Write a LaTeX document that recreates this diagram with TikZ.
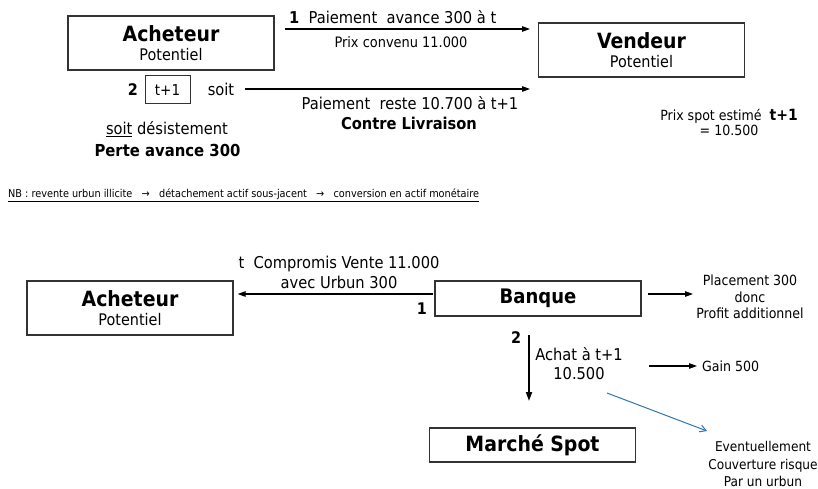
\documentclass[tikz,border=0pt]{standalone}
\usepackage{fontspec}
\setmainfont{DejaVu Sans Condensed}
\usetikzlibrary{arrows.meta}

\definecolor{bleufleche}{RGB}{46,117,182}

\tikzset{
  boite/.style={draw=black!80,line width=1.3pt,align=center,inner sep=0pt,minimum width=206pt},
  titre/.style={font=\fontsize{21}{23}\selectfont\bfseries},
  fleche/.style={-{Triangle[length=8pt,width=5.5pt]},line width=1.1pt},
  etiq/.style={align=center,inner sep=0pt,font=\fontsize{16.3}{19.5}\selectfont},
  petit/.style={align=center,inner sep=0pt,font=\fontsize{14}{16.5}\selectfont},
  num/.style={inner sep=0pt,font=\fontsize{16}{18}\selectfont\bfseries}
}

\newcommand{\pot}[1]{{\fontsize{21}{23}\selectfont\bfseries #1}\\[6pt]{\fontsize{16}{18}\selectfont Potentiel}}

\begin{document}
\begin{tikzpicture}[x=1pt,y=-1pt]
	\useasboundingbox (0,0) rectangle (818,489);

	% en haut : achat a terme
	\node[boite,minimum height=54pt] (ach) at (171,43) {\pot{Acheteur}};
	\node[boite,minimum height=54pt] (ven) at (641.5,50) {\pot{Vendeur}};

	\coordinate (d1) at (285,29);
	\coordinate (f1) at (530,29);
	\draw[fleche] (d1) -- (f1);
	\node[etiq,anchor=west] (pai) at (289,17) {\textbf{1}\ \ Paiement\ \ avance 300 à t};
	\node[etiq,font=\fontsize{14.4}{16}\selectfont] (prix) at (401,42) {Prix convenu 11.000};

	\node[num] (deux) at (133,90) {2};
	\node[draw=black!80,line width=1pt,minimum width=45pt,minimum height=28pt,inner sep=0pt,
		font=\fontsize{15}{17}\selectfont] (tun) at (167.5,90) {t+1};
	\node[etiq] (soit) at (221,89) {soit};
	\coordinate (d2) at (245,89);
	\coordinate (f2) at (530,89);
	\draw[fleche] (d2) -- (f2);
	\node[etiq] (reste) at (410,103) {Paiement\ \ reste 10.700 à t+1};
	\node[etiq,font=\fontsize{16.3}{19}\selectfont\bfseries] (livr) at (409,123) {Contre Livraison};

	\node[etiq] (desist) at (167,129) {\underline{soit} désistement};
	\node[etiq,font=\fontsize{16.5}{19}\selectfont\bfseries] (perte) at (167.5,150) {Perte avance 300};

	\node[petit,font=\fontsize{14}{15}\selectfont] (spot) at (729,122)
		{Prix spot estimé\ \ \textbf{\fontsize{15.5}{15}\selectfont t+1}\\= 10.500};

	% remarque
	\node[inner sep=0pt,anchor=west,font=\fontsize{10.8}{13}\selectfont] (nb) at (8,194)
		{NB : revente urbun illicite\ \ \ →\ \ \ détachement actif sous-jacent\ \ \ →\ \ \ conversion en actif monétaire};
	\draw[line width=0.8pt] ([yshift=-2pt]nb.south west) -- ([yshift=-2pt]nb.south east);

	% en bas : montage bancaire
	\node[boite,minimum height=54pt] (ach2) at (130,308) {\pot{Acheteur}};
	\node[boite,minimum height=35pt,font=\fontsize{20}{22}\selectfont\bfseries] (ban) at (538,298.5) {Banque};
	\node[boite,minimum height=34pt,titre] (spotm) at (532.5,445) {Marché Spot};

	\coordinate (d3) at (433,294);
	\draw[fleche,shorten >=4pt] (d3) -- (ach2.east |- d3);
	\node[etiq,font=\fontsize{16.3}{20}\selectfont] (comp) at (339,272) {t\ \ Compromis Vente 11.000\\avec Urbun 300};
	\node[num] (un) at (422,309) {1};

	\coordinate (d4) at (648,294);
	\coordinate (f4) at (693,294);
	\draw[fleche] (d4) -- (f4);
	\node[petit] (plac) at (750,297) {Placement 300\\donc\\Profit additionnel};

	\node[num] (deuxb) at (516,338) {2};
	\coordinate (d5) at (529,335);
	\coordinate (f5) at (529,401);
	\draw[-{Triangle[length=9pt,width=6pt]},line width=1.8pt] (d5) -- (f5);
	\node[etiq] (achat) at (579,363.5) {Achat à t+1\\10.500};

	\coordinate (d6) at (649,366);
	\coordinate (f6) at (697,366);
	\draw[fleche] (d6) -- (f6);
	\node[petit,anchor=west] (gain) at (702,366) {Gain 500};

	\coordinate (d7) at (607,393);
	\coordinate (f7) at (707,431);
	\draw[-{Straight Barb[length=6pt,width=7pt]},bleufleche,line width=1pt] (d7) -- (f7);
	\node[petit,font=\fontsize{13.5}{17.5}\selectfont] (event) at (763,464) {Eventuellement\\Couverture risque\\Par un urbun};
\end{tikzpicture}
\end{document}
